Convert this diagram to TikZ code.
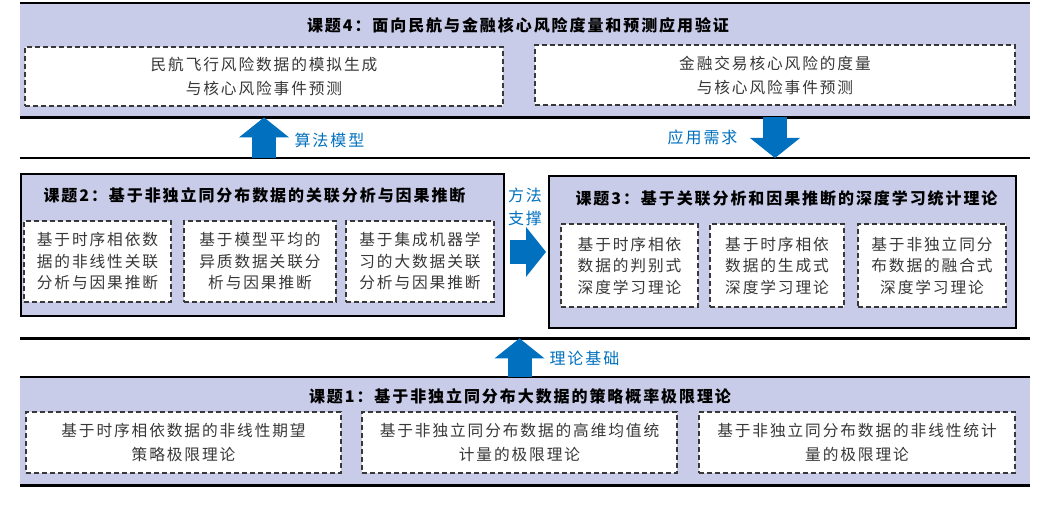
\documentclass[tikz,border=0pt]{standalone}
\usepackage{fontspec}
\usepackage{tikz}
\usetikzlibrary{arrows.meta}
\newfontfamily\cjk[LetterSpace=12]{Noto Sans CJK SC}
\definecolor{clav}{rgb}{0.79, 0.80, 0.91}
\definecolor{cblue}{rgb}{0.0, 0.44, 0.75}
\definecolor{cgray}{rgb}{0.22, 0.22, 0.22}

\begin{document}
\begin{tikzpicture}[x=1pt,y=-1pt,
  band node/.style={anchor=north west,inner sep=0pt,minimum width=1010pt},
  box node/.style={anchor=north west,inner sep=0pt,draw,line width=1.8pt,fill=clav},
  sub node/.style={draw=cgray,dash pattern=on 5pt off 3pt,line width=1.3pt,fill=white,inner sep=0pt,
    align=center,text=cgray,font=\cjk\fontsize{15.7}{21.5}\selectfont},
  wide node/.style={sub node,font=\cjk\fontsize{15.7}{24}\selectfont},
  title node/.style={font=\cjk\bfseries\fontsize{16}{20}\selectfont},
  tag node/.style={text=cblue,align=center,font=\cjk\fontsize{16}{23}\selectfont},
  band line/.style={line width=2.6pt},
  block arrow/.style={color=cblue,line width=24pt,
    -{Triangle[width=50pt,length=20pt,line width=0pt,color=cblue,fill=cblue]}}]

  \useasboundingbox (0,0) rectangle (1051,521);

  % the three bands
  \node[band node,fill=clav,minimum height=114pt] (band4) at (20,3) {};
  \node[band node,minimum height=180pt] (mid) at (20,158) {};
  \node[band node,fill=clav,minimum height=108pt] (band1) at (20,377) {};
  \draw[band line] (band4.north west) -- (band4.north east);
  \draw[band line] (band4.south west) -- (band4.south east);
  \draw[band line] (mid.north west) -- (mid.north east);
  \draw[band line] (mid.south west) -- (mid.south east);
  \draw[band line] (band1.north west) -- (band1.north east);
  \draw[band line] (band1.south west) -- (band1.south east);

  \node[box node,minimum width=483pt,minimum height=142pt] (box2) at (20,173) {};
  \node[box node,minimum width=467pt,minimum height=152pt] (box3) at (548,175) {};

  % titles
  \node[title node] (t4) at (518,25) {课题4：面向民航与金融核心风险度量和预测应用验证};
  \node[title node,anchor=west] (t2) at (40,195) {课题2：基于非独立同分布数据的关联分析与因果推断};
  \node[title node,anchor=west] (t3) at (572,198) {课题3：基于关联分析和因果推断的深度学习统计理论};
  \node[title node] (t1) at (520,396) {课题1：基于非独立同分布大数据的策略概率极限理论};

  % sub topics
  \node[wide node,minimum width=478pt,minimum height=59pt] (p41) at (264,76.5) {民航飞行风险数据的模拟生成\\与核心风险事件预测};
  \node[wide node,minimum width=480pt,minimum height=60pt] (p42) at (775,75) {金融交易核心风险的度量\\与核心风险事件预测};

  \node[sub node,minimum width=147pt,minimum height=81pt] (p21) at (97.5,261.5) {基于时序相依数\\据的非线性关联\\分析与因果推断};
  \node[sub node,minimum width=152pt,minimum height=81pt] (p22) at (260,261.5) {基于模型平均的\\异质数据关联分\\析与因果推断};
  \node[sub node,minimum width=148pt,minimum height=81pt] (p23) at (420,261.5) {基于集成机器学\\习的大数据关联\\分析与因果推断};

  \node[sub node,minimum width=137pt,minimum height=83pt] (p31) at (629.5,265.5) {基于时序相依\\数据的判别式\\深度学习理论};
  \node[sub node,minimum width=134pt,minimum height=83pt] (p32) at (777,265.5) {基于时序相依\\数据的生成式\\深度学习理论};
  \node[sub node,minimum width=148pt,minimum height=83pt] (p33) at (932,265.5) {基于非独立同分\\布数据的融合式\\深度学习理论};

  \node[wide node,minimum width=315pt,minimum height=61pt] (p11) at (183.5,442.5) {基于时序相依数据的非线性期望\\策略极限理论};
  \node[wide node,minimum width=315pt,minimum height=61pt] (p12) at (519.5,442.5) {基于非独立同分布数据的高维均值统\\计量的极限理论};
  \node[wide node,minimum width=316pt,minimum height=61pt] (p13) at (857,442.5) {基于非独立同分布数据的非线性统计\\量的极限理论};

  % links
  \draw[block arrow] (mid.north -| p41) -- (band4.south -| p41);
  \draw[block arrow] (band4.south -| p42) -- (mid.north -| p42);
  \draw[block arrow,shorten <=5pt,shorten >=2pt] (box2.east |- box3.west) -- (box3.west);
  \draw[block arrow] (band1.north -| p12) -- (mid.south -| p12);

  \node[tag node,anchor=west] (a41) at (291,140) {算法模型};
  \node[tag node,anchor=east] (a42) at (741,137) {应用需求};
  \node[tag node] (a23) at (525,207) {方法\\支撑};
  \node[tag node,anchor=west] (a12) at (546,358) {理论基础};
\end{tikzpicture}
\end{document}
